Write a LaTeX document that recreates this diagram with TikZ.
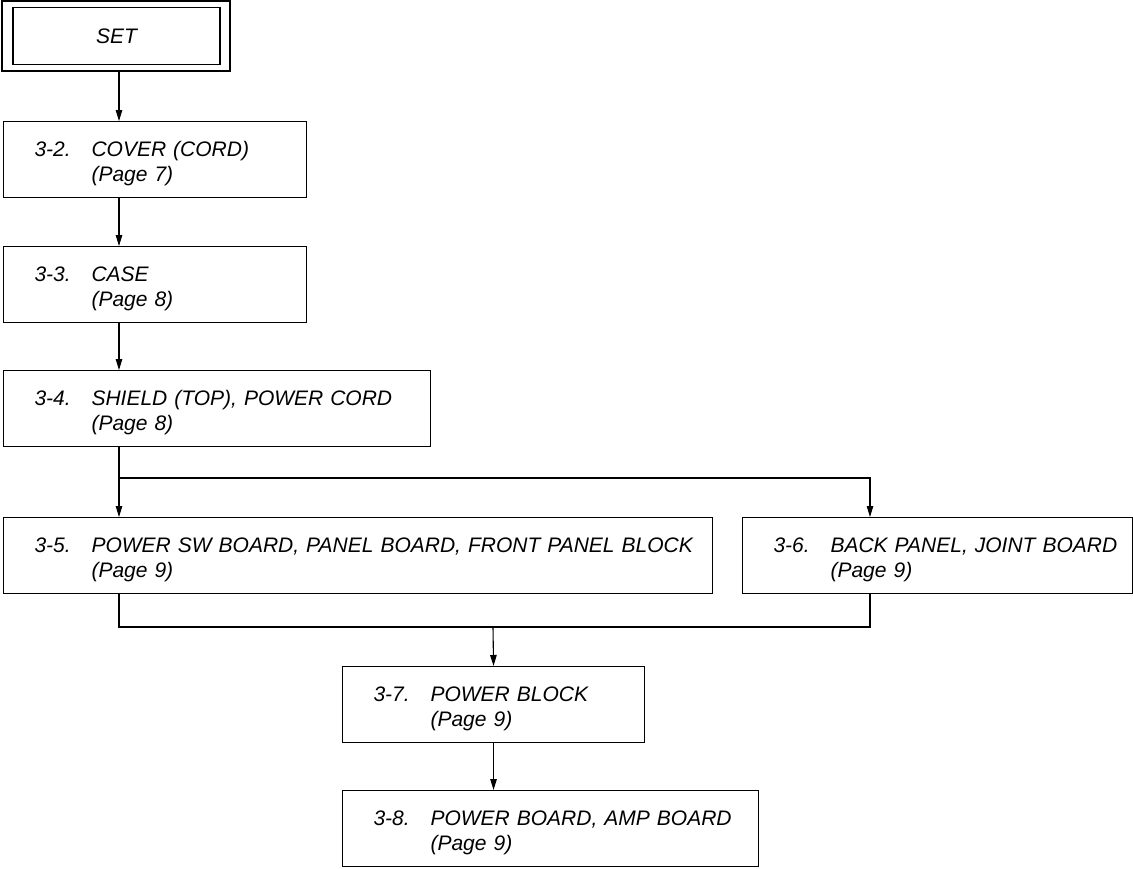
\documentclass[tikz,border=0pt]{standalone}
\usepackage{fontspec}
\setmainfont{Liberation Sans}
\usepackage{tikz}
\usetikzlibrary{arrows.meta}

\begin{document}
\begin{tikzpicture}[x=1pt,y=-1pt,line width=1.1pt,
    font=\itshape\fontsize{21}{25.5}\selectfont,
    arr/.style={-{Triangle[length=11pt,width=6.5pt]}},
    stepbox/.style={draw,anchor=north west,minimum height=76pt,inner xsep=0pt,align=left,
      execute at begin node={\rule{0pt}{23pt}\hspace*{31pt}}}]
      \useasboundingbox (0,0) rectangle (1133,868);
      % start box, double frame
      \node[draw,minimum width=228pt,minimum height=70pt] (setframe) at (116,36) {};
      \node[draw,minimum width=207pt,minimum height=57pt] (set) at (116.5,36) {SET};

      \node[stepbox,text width=303pt] (b32) at (3,121) {\makebox[57pt][l]{3-2.}COVER (CORD)\\\hspace*{88pt}(Page 7)};
      \node[stepbox,text width=303pt] (b33) at (3,246) {\makebox[57pt][l]{3-3.}CASE\\\hspace*{88pt}(Page 8)};
      \node[stepbox,text width=427pt] (b34) at (3,370) {\makebox[57pt][l]{3-4.}SHIELD (TOP), POWER CORD\\\hspace*{88pt}(Page 8)};
      \node[stepbox,text width=709pt] (b35) at (3,517) {\makebox[57pt][l]{3-5.}POWER SW BOARD, PANEL BOARD, FRONT PANEL BLOCK\\\hspace*{88pt}(Page 9)};
      \node[stepbox,text width=390pt] (b36) at (742,517) {\makebox[57pt][l]{3-6.}BACK PANEL, JOINT BOARD\\\hspace*{88pt}(Page 9)};
      \node[stepbox,text width=302pt] (b37) at (342,666) {\makebox[57pt][l]{3-7.}POWER BLOCK\\\hspace*{88pt}(Page 9)};
      \node[stepbox,text width=416pt] (b38) at (342,790) {\makebox[57pt][l]{3-8.}POWER BOARD, AMP BOARD\\\hspace*{88pt}(Page 9)};

      \coordinate (lx) at (119,0);
      \coordinate (rx) at (870,0);
      \coordinate (split) at (119,478);
      \coordinate (merge) at (493,627);

      \draw[arr] (setframe.south -| lx) -- (b32.north -| lx);
      \draw[arr] (b32.south -| lx) -- (b33.north -| lx);
      \draw[arr] (b33.south -| lx) -- (b34.north -| lx);
      \draw (b34.south -| lx) -- (split);
      \draw[arr] (split) -- (b35.north -| lx);
      \draw[arr] (split) -| (b36.north -| rx);
      \draw (b35.south -| lx) |- (merge);
      \draw (b36.south -| rx) |- (merge);
      \draw[arr] (merge) -- (b37.north);
      \draw[arr] (b37.south) -- (b38.north -| b37.south);
\end{tikzpicture}
\end{document}
